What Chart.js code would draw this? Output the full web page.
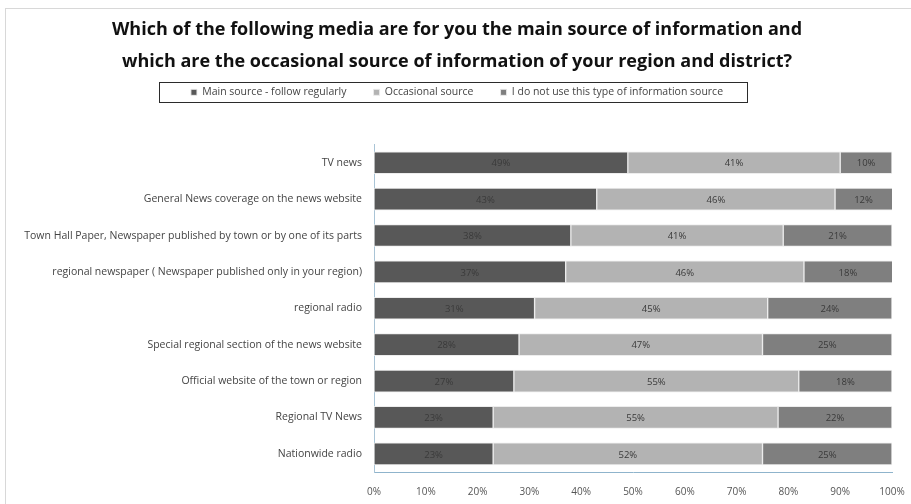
<!DOCTYPE html>
<html>
<head>
<meta charset="utf-8">
<script src="https://cdn.jsdelivr.net/npm/chart.js@4/dist/chart.umd.min.js"></script>
<style>
    html, body { margin: 0; padding: 0; background: #fff; }
    #wrap { position: relative; width: 911px; height: 504px; }
    #frame { position: absolute; left: 5px; top: 8px; width: 920px; height: 520px; border: 1px solid #d8d8d8; }
    canvas { position: absolute; left: 0; top: 0; }
</style>
</head>
<body>
<div id="wrap">
    <div id="frame"></div>
    <canvas id="chart" width="911" height="504"></canvas>
</div>
<script>
// カテゴリ
const categories = [
    'TV news',
    'General News coverage on the news website',
    'Town Hall Paper, Newspaper published by town or by one of its parts',
    'regional newspaper ( Newspaper published only in your region)',
    'regional radio',
    'Special regional section of the news website',
    'Official website of the town or region',
    'Regional TV News',
    'Nationwide radio'
];

// シリーズ値 (%)
const mainSource = [49, 43, 38, 37, 31, 28, 27, 23, 23];
const occasionalSource = [41, 46, 41, 46, 45, 47, 55, 55, 52];
const notUsed = [10, 12, 21, 18, 24, 25, 18, 22, 25];

const seriesNames = ['Main source - follow regularly', 'Occasional source', 'I do not use this type of information source'];
const xTicks = [0, 10, 20, 30, 40, 50, 60, 70, 80, 90, 100];

const titleLines = [
    'Which of the following media are for you the main source of information and',
    'which are the occasional source of information of your region and district?'
];

const FONT = 'Open Sans';

// バー内のラベル
const barLabels = {
    id: 'barLabels',
    afterDatasetsDraw(chart) {
        const ctx = chart.ctx;
        ctx.save();
        ctx.font = `9.5px "${FONT}"`;
        ctx.fillStyle = '#3a3a3a';
        ctx.textAlign = 'center';
        ctx.textBaseline = 'middle';
        chart.data.datasets.forEach((ds, i) => {
            chart.getDatasetMeta(i).data.forEach((bar, j) => {
                const left = Math.max(bar.base, chart.chartArea.left);
                const right = Math.min(bar.x, chart.chartArea.right);
                ctx.fillText(ds.data[j] + '%', (left + right) / 2, bar.y + 1);
            });
        });
        ctx.restore();
    }
};

// 凡例の枠
const legendBox = {
    id: 'legendBox',
    afterDraw(chart) {
        const boxes = chart.legend.legendHitBoxes;
        if (!boxes.length) return;
        const ctx = chart.ctx;
        const first = boxes[0];
        const last = boxes[boxes.length - 1];
        const x0 = first.left - 32;
        const x1 = last.left + last.width + 24;
        const yc = first.top + first.height / 2;
        ctx.save();
        ctx.strokeStyle = '#2b2b2b';
        ctx.lineWidth = 1;
        ctx.strokeRect(Math.round(x0) + 0.5, Math.round(yc - 10) + 0.5, Math.round(x1 - x0), 20);
        ctx.restore();
    }
};

const ctx = document.getElementById('chart').getContext('2d');
new Chart(ctx, {
    type: 'bar',
    data: {
        labels: categories,
        datasets: [
            { label: seriesNames[0], data: mainSource, backgroundColor: '#585858' },
            { label: seriesNames[1], data: occasionalSource, backgroundColor: '#b3b3b3' },
            { label: seriesNames[2], data: notUsed, backgroundColor: '#7f7f7f' }
        ].map(d => Object.assign(d, {
            barThickness: 22,
            borderWidth: 1,
            borderColor: 'rgba(235,235,235,0.9)',
            borderSkipped: false
        }))
    },
    options: {
        indexAxis: 'y',
        responsive: false,
        animation: false,
        layout: { padding: { left: 22, right: 19, top: 14, bottom: 6 } },
        scales: {
            x: {
                stacked: true,
                min: 0,
                max: 100,
                afterBuildTicks(scale) {
                    scale.ticks = xTicks.map(v => ({ value: v }));
                },
                afterFit(scale) {
                    scale.height = 26;
                    scale.paddingLeft = 0;
                    scale.paddingRight = 0;
                },
                ticks: {
                    callback: v => v + '%',
                    font: { family: FONT, size: 10 },
                    color: '#555',
                    padding: 14,
                    maxRotation: 0
                },
                grid: { display: false, drawTicks: false },
                border: { color: '#8fb4cc', width: 1 }
            },
            y: {
                stacked: true,
                afterFit(scale) { scale.width = 352; },
                ticks: {
                    font: { family: FONT, size: 10.5 },
                    color: '#444',
                    padding: 12,
                    autoSkip: false
                },
                grid: { display: false, drawTicks: false },
                border: { color: '#a9c4d6', width: 1 }
            }
        },
        plugins: {
            title: {
                display: true,
                text: titleLines,
                color: '#111',
                font: { family: FONT, size: 18, weight: 'bold', lineHeight: 1.78 },
                padding: { top: 0, bottom: 1 }
            },
            // 凡例の下の余白
            subtitle: {
                display: true,
                text: '',
                weight: 500,
                font: { size: 10, lineHeight: 1 },
                padding: { top: 13.5, bottom: 13.5 }
            },
            legend: {
                display: true,
                position: 'top',
                labels: {
                    boxWidth: 6,
                    boxHeight: 6,
                    padding: 8,
                    color: '#444',
                    font: { family: FONT, size: 10.5 },
                    generateLabels(chart) {
                        const items = Chart.defaults.plugins.legend.labels.generateLabels(chart);
                        items.forEach((it, i) => {
                            if (i < items.length - 1) it.text += '       ';
                        });
                        return items;
                    }
                }
            },
            tooltip: { enabled: false }
        }
    },
    plugins: [barLabels, legendBox]
});
</script>
</body>
</html>
